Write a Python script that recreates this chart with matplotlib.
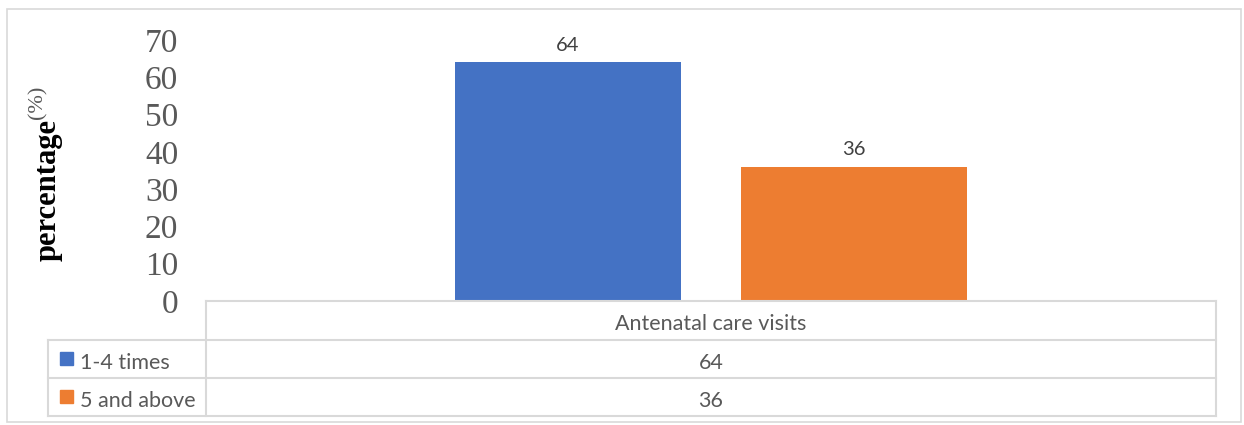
import matplotlib
from matplotlib import pyplot as plt
from matplotlib.lines import Line2D
from matplotlib.patches import Rectangle

matplotlib.use("Agg")

category = "Antenatal care visits"
series = ["1-4 times", "5 and above"]
values = [64, 36]
colors = ["#4472c4", "#ed7d31"]
yticks = [0, 10, 20, 30, 40, 50, 60, 70]

W, H = 1244, 425
GRID = "#d9d9d9"
TEXT = "#595959"


def fx(x):
    return x / W


def fy(y):
    return 1 - y / H


fig = plt.figure(figsize=(W / 100, H / 100), dpi=100)

# outer chart border
fig.add_artist(Rectangle((fx(7), fy(422)), fx(1241) - fx(7), fy(9) - fy(422),
                         transform=fig.transFigure, fill=False,
                         edgecolor=GRID, lw=1.2))

ax = fig.add_axes([fx(206), fy(301), fx(1216) - fx(206), fy(40) - fy(301)])
width = 0.224
offsets = [-0.1415, 0.1415]
for off, v, c in zip(offsets, values, colors):
    ax.bar(off, v, width=width, color=c)
    ax.text(off, v + 2.3, str(v), ha="center", va="bottom",
            fontsize=14.5, color="#404040", family="Lato")

ax.set_xlim(-0.5, 0.5)
ax.set_ylim(0, 70)
ax.set_yticks(yticks)
ax.set_yticklabels([str(t) for t in yticks], family="Liberation Serif",
                   fontsize=24, color=TEXT)
ax.tick_params(axis="y", length=0, pad=20)
ax.set_xticks([])
for s in ax.spines.values():
    s.set_visible(False)

# y label
fig.text(fx(48), fy(190), "percentage", rotation=90, ha="center", va="center",
         family="Liberation Serif", fontweight="bold", fontsize=22,
         color="black")
fig.text(fx(38), fy(102), "(%)", rotation=90, ha="center", va="center",
         family="Liberation Serif", fontsize=16, color=TEXT)


def line(x0, y0, x1, y1):
    fig.add_artist(Line2D([fx(x0), fx(x1)], [fy(y0), fy(y1)],
                          transform=fig.transFigure, color=GRID, lw=1.5))


# data table
rows = [301, 340, 378, 416]
line(206, 301, 1216, 301)
for y in rows[1:]:
    line(48, y, 1216, y)
line(48, 340, 48, 416)
line(206, 301, 206, 416)
line(1216, 301, 1216, 416)

fig.text(fx(711), fy(324), category, ha="center", va="center",
         family="Lato", fontsize=15.5, color=TEXT)
for i, (name, v, c) in enumerate(zip(series, values, colors)):
    yc = (rows[i + 1] + rows[i + 2]) / 2
    fig.add_artist(Rectangle((fx(60), fy(yc + 6)), fx(73) - fx(60),
                             fy(352) - fy(365), transform=fig.transFigure,
                             color=c))
    fig.text(fx(80), fy(yc + 4), name, ha="left", va="center",
             family="Lato", fontsize=15.5, color=TEXT)
    fig.text(fx(711), fy(yc + 4), str(v), ha="center", va="center",
             family="Lato", fontsize=15.5, color=TEXT)

fig.savefig("out.png", dpi=100)
